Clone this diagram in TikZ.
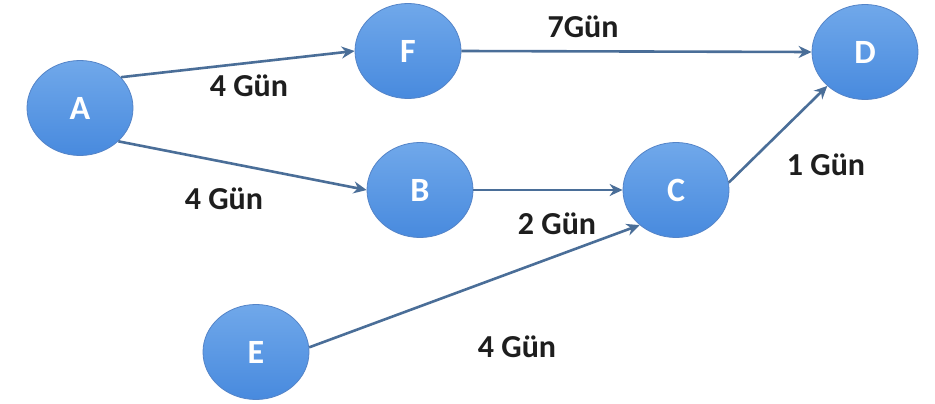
\documentclass[tikz,border=0pt]{standalone}
\usepackage{fontspec}
\setmainfont{Carlito}
\usetikzlibrary{shapes.geometric,arrows.meta}
\definecolor{nodetop}{RGB}{112,168,234}
\definecolor{nodemid}{RGB}{98,158,230}
\definecolor{nodebot}{RGB}{72,138,222}
\definecolor{nodeedge}{RGB}{84,132,200}
\definecolor{linkcol}{RGB}{74,110,152}
\definecolor{labelcol}{RGB}{30,30,30}
\tikzset{
  event/.style={ellipse, minimum width=106pt, minimum height=95pt, inner sep=0pt,
    top color=nodetop, middle color=nodemid, bottom color=nodebot,
    draw=nodeedge, line width=0.8pt, text=white,
    font=\fontsize{34}{40}\selectfont\bfseries},
  link/.style={draw=linkcol, line width=2.6pt,
    -{Stealth[length=13pt,width=12pt]}},
  dur/.style={text=labelcol, inner sep=0pt, font=\fontsize{32}{38}\selectfont\bfseries}
}
\begin{document}
\begin{tikzpicture}[x=1pt,y=-1pt]
\useasboundingbox (0,0) rectangle (935,404);
\fill[white] (0,0) rectangle (935,404);
% events
\node[event] (A) at (80,108) {A};
\node[event] (F) at (408,51) {F};
\node[event] (B) at (420,190) {B};
\node[event] (C) at (676,190) {C};
\node[event] (D) at (865,52) {D};
\node[event] (E) at (256,352) {E};
% activities
\draw[link] (A.37) -- (F.180);
\draw[link] (A.-41) -- (B.180);
\draw[link] (F.east) -- (D.west);
\draw[link] (B.east) -- (C.west);
\draw[link] (E.5) -- (C.224);
\draw[link] (C.8) -- (D.222);
% durations
\node[dur] (lAF) at (249,86) {4 Gün};
\node[dur] (lAB) at (224,199) {4 Gün};
\node[dur] (lFD) at (583,27) {7Gün};
\node[dur] (lBC) at (557,224) {2 Gün};
\node[dur] (lCD) at (826,165) {1 Gün};
\node[dur] (lEC) at (517,347) {4 Gün};
\end{tikzpicture}
\end{document}
